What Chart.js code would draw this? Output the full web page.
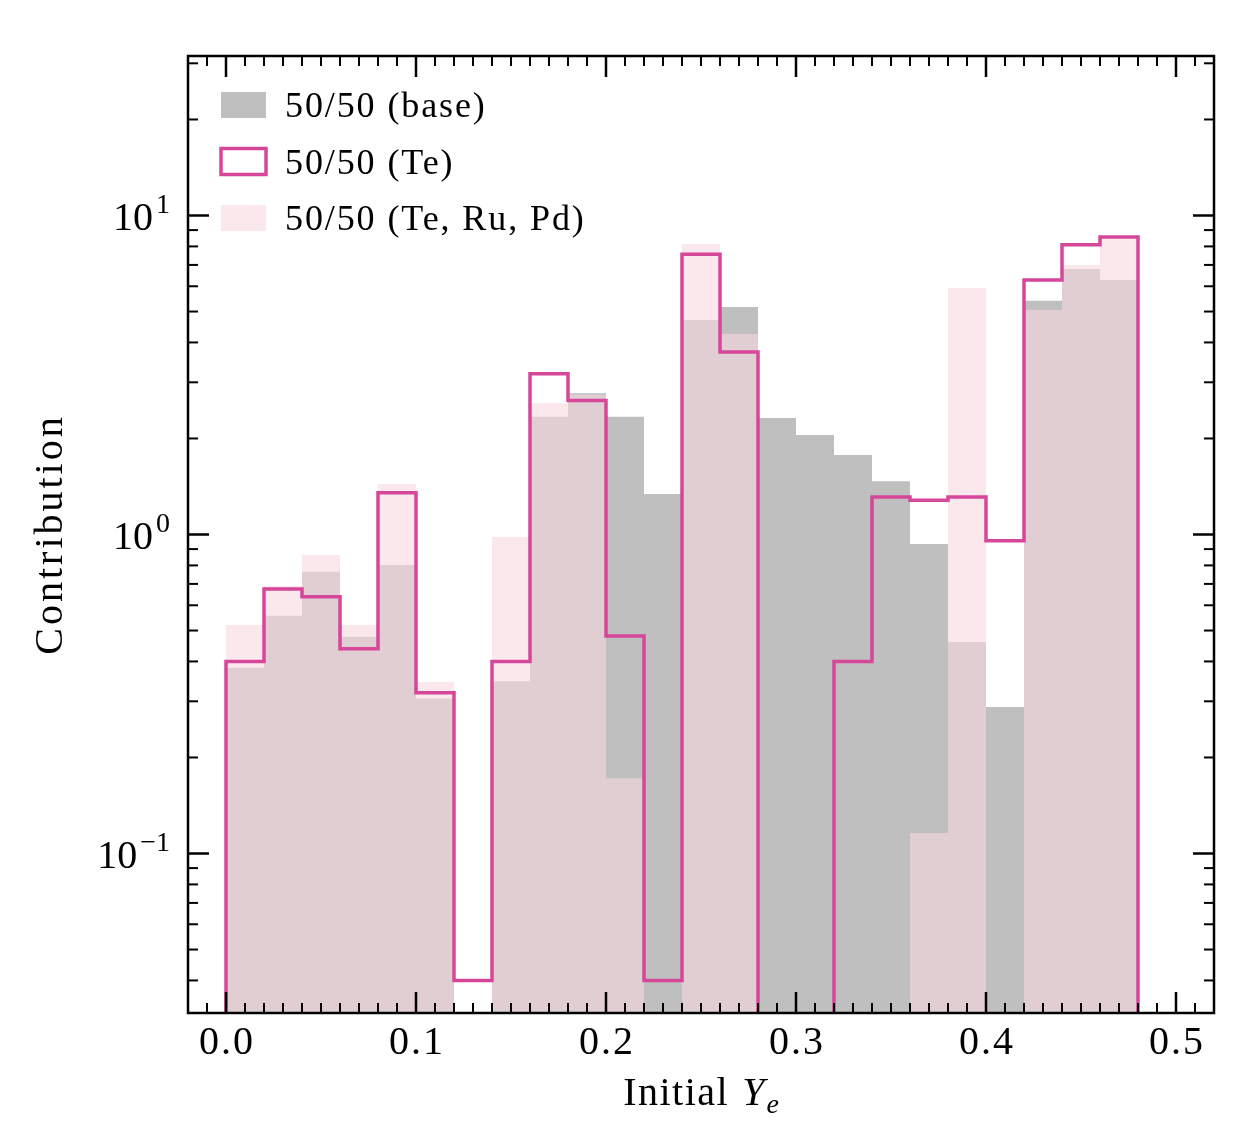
<!DOCTYPE html>
<html>
<head>
<meta charset="utf-8">
<title>Contribution by initial Ye</title>
<script src="https://cdn.jsdelivr.net/npm/chart.js@4.4.1/dist/chart.umd.min.js"></script>
<style>
  html, body { margin: 0; padding: 0; background: #fff; }
  canvas { display: block; }
</style>
</head>
<body>
<canvas id="yeChart" width="1250" height="1125"></canvas>
<script>
// left edges of the initial Ye bins, each 0.02 wide
const binStarts = [0.00, 0.02, 0.04, 0.06, 0.08, 0.10, 0.12, 0.14, 0.16, 0.18, 0.20, 0.22,
                   0.24, 0.26, 0.28, 0.30, 0.32, 0.34, 0.36, 0.38, 0.40, 0.42, 0.44, 0.46];
const BIN_WIDTH = 0.02;

// contributions per bin (0 = empty bin)
const baseValues = [0.382, 0.556, 0.764, 0.478, 0.802, 0.306, 0, 0.347, 2.34, 2.77, 2.34, 1.34,
                    4.70, 5.17, 2.32, 2.05, 1.775, 1.47, 0.934, 0.460, 0.288, 5.40, 6.80, 6.28];
const teValues = [0.400, 0.675, 0.638, 0.438, 1.352, 0.319, 0.040, 0.400, 3.19, 2.63, 0.481, 0.040,
                  7.56, 3.73, 0, 0, 0.400, 1.31, 1.28, 1.31, 0.956, 6.28, 8.10, 8.56];
const teRuPdValues = [0.520, 0.690, 0.862, 0.520, 1.44, 0.345, 0, 0.982, 2.58, 2.74, 0.172, 0,
                      8.14, 4.25, 0, 0, 0, 0, 0.116, 5.93, 0, 5.06, 7.00, 8.44];

const seriesLabels = ['50/50 (base)', '50/50 (Te)', '50/50 (Te, Ru, Pd)'];
const xTickValues = [0, 0.1, 0.2, 0.3, 0.4, 0.5];
const xTickLabels = ['0.0', '0.1', '0.2', '0.3', '0.4', '0.5'];
const yTickExponents = [-1, 0, 1];

const SERIF = '"Liberation Serif", "Times New Roman", serif';
const TE_COLOR = '#d6479a';
const BASE_FILL = 'rgba(128, 128, 128, 0.5)';
const PINK_FILL = 'rgba(248, 216, 223, 0.6)';
const Y_MIN = Math.pow(10, -1.5);
const Y_MAX = Math.pow(10, 1.5);

// histogram outline: each value held across its bin, empty bins fall below the axis
function stepPoints(values) {
    const floor = Y_MIN / 100;
    const last = binStarts.length - 1;
    const pts = [{ x: binStarts[0], y: floor }];
    binStarts.forEach((x0, i) => pts.push({ x: x0, y: values[i] > 0 ? values[i] : floor }));
    pts.push({ x: binStarts[last] + BIN_WIDTH, y: values[last] > 0 ? values[last] : floor });
    pts.push({ x: binStarts[last] + BIN_WIDTH, y: floor });
    return pts;
}

function filledHist(label, values, color, order) {
    return {
        label: label,
        data: stepPoints(values),
        stepped: true,
        borderWidth: 0,
        borderColor: 'rgba(0,0,0,0)',
        backgroundColor: color,
        pointRadius: 0,
        fill: 'start',
        order: order
    };
}

function setFont(ctx, font, spacing) {
    ctx.font = font;
    if ('letterSpacing' in ctx) ctx.letterSpacing = (spacing || 0) + 'px';
}

function tick(ctx, x0, y0, x1, y1, width) {
    ctx.lineWidth = width;
    ctx.beginPath();
    ctx.moveTo(x0, y0);
    ctx.lineTo(x1, y1);
    ctx.stroke();
}

// frame, inward ticks on all four sides, labels and the legend (matplotlib look)
const axesPlugin = {
    id: 'axesPlugin',
    afterDraw(chart) {
        const { ctx, chartArea: a, scales: { x, y } } = chart;
        const MAJOR = 21, MINOR = 10;
        ctx.save();
        ctx.strokeStyle = '#000';
        ctx.fillStyle = '#000';
        ctx.lineCap = 'butt';

        // x ticks: majors every 0.1, minors every 0.01
        for (let i = -1; i <= 51; i++) {
            const v = i / 100;
            if (v < x.min || v > x.max) continue;
            const px = x.getPixelForValue(v);
            const major = i % 10 === 0;
            const len = major ? MAJOR : MINOR;
            tick(ctx, px, a.bottom, px, a.bottom - len, major ? 2.5 : 2);
            tick(ctx, px, a.top, px, a.top + len, major ? 2.5 : 2);
        }
        // y ticks: decades plus 2..9 minors
        for (let k = -2; k <= 1; k++) {
            for (let m = 1; m <= 9; m++) {
                const v = m * Math.pow(10, k);
                if (v < y.min || v > y.max) continue;
                const py = y.getPixelForValue(v);
                const len = m === 1 ? MAJOR : MINOR;
                tick(ctx, a.left, py, a.left + len, py, m === 1 ? 2.5 : 2);
                tick(ctx, a.right, py, a.right - len, py, m === 1 ? 2.5 : 2);
            }
        }
        ctx.lineWidth = 2.5;
        ctx.strokeRect(a.left, a.top, a.right - a.left, a.bottom - a.top);

        // x tick labels
        setFont(ctx, '40px ' + SERIF, 2);
        ctx.textAlign = 'center';
        ctx.textBaseline = 'alphabetic';
        xTickValues.forEach((v, i) => {
            ctx.fillText(xTickLabels[i], x.getPixelForValue(v) + 1, a.bottom + 41);
        });

        // y tick labels 10^e
        ctx.textAlign = 'left';
        yTickExponents.forEach((e) => {
            const py = y.getPixelForValue(Math.pow(10, e));
            const sup = e < 0 ? '\u2212' + (-e) : String(e);
            setFont(ctx, '28px ' + SERIF, 0);
            const wSup = ctx.measureText(sup).width;
            const right = a.left - 18;
            ctx.fillText(sup, right - wSup, py - 3);
            setFont(ctx, '40px ' + SERIF, 0);
            const wBase = ctx.measureText('10').width;
            ctx.fillText('10', right - wSup - 3 - wBase, py + 14);
        });

        // x title: Initial Y_e
        setFont(ctx, '40px ' + SERIF, 1.5);
        const wInit = ctx.measureText('Initial').width;
        setFont(ctx, 'italic 40px ' + SERIF, 0);
        const wY = ctx.measureText('Y').width;
        setFont(ctx, 'italic 28px ' + SERIF, 0);
        const wE = ctx.measureText('e').width;
        const gap = 13;
        let cx = (a.left + a.right) / 2 - (wInit + gap + wY + 2 + wE) / 2;
        const base = a.bottom + 92;
        setFont(ctx, '40px ' + SERIF, 1.5);
        ctx.fillText('Initial', cx, base);
        cx += wInit + gap;
        setFont(ctx, 'italic 40px ' + SERIF, 0);
        ctx.fillText('Y', cx, base);
        cx += wY + 2;
        setFont(ctx, 'italic 28px ' + SERIF, 0);
        ctx.fillText('e', cx, base + 8);

        // y title
        ctx.save();
        ctx.translate(62, (a.top + a.bottom) / 2);
        ctx.rotate(-Math.PI / 2);
        setFont(ctx, '40px ' + SERIF, 3);
        ctx.textAlign = 'center';
        ctx.fillText('Contribution', 0, 0);
        ctx.restore();

        // legend, top left inside the axes
        const rows = [
            { label: seriesLabels[0], fill: BASE_FILL },
            { label: seriesLabels[1], stroke: TE_COLOR },
            { label: seriesLabels[2], fill: PINK_FILL }
        ];
        const boxX = a.left + 33;
        setFont(ctx, '36px ' + SERIF, 1.9);
        ctx.textAlign = 'left';
        rows.forEach((r, i) => {
            const top = a.top + 36 + i * 56.5;
            if (r.fill) {
                ctx.fillStyle = r.fill;
                ctx.fillRect(boxX, top, 45, 26);
            } else {
                ctx.strokeStyle = r.stroke;
                ctx.lineWidth = 3.5;
                ctx.strokeRect(boxX, top, 45, 26);
            }
            ctx.fillStyle = '#000';
            ctx.fillText(r.label, a.left + 97, top + 25);
        });
        ctx.restore();
    }
};

function createChart(canvasId) {
    const ctxt = document.getElementById(canvasId).getContext('2d');
    return new Chart(ctxt, {
        type: 'line',
        data: {
            datasets: [
                {
                    label: seriesLabels[1],
                    data: stepPoints(teValues),
                    stepped: true,
                    borderColor: TE_COLOR,
                    backgroundColor: '#fff',
                    borderWidth: 3.5,
                    borderJoinStyle: 'miter',
                    pointRadius: 0,
                    fill: false,
                    order: 0
                },
                filledHist(seriesLabels[2], teRuPdValues, PINK_FILL, 1),
                filledHist(seriesLabels[0], baseValues, BASE_FILL, 2)
            ]
        },
        options: {
            responsive: false,
            animation: false,
            layout: { padding: { left: 188, right: 36, top: 56, bottom: 112 } },
            scales: {
                x: {
                    type: 'linear',
                    min: -0.02,
                    max: 0.52,
                    display: false,
                    afterBuildTicks: (scale) => { scale.ticks = xTickValues.map((v) => ({ value: v })); }
                },
                y: {
                    type: 'logarithmic',
                    min: Y_MIN,
                    max: Y_MAX,
                    display: false,
                    afterBuildTicks: (scale) => {
                        scale.ticks = yTickExponents.map((e) => ({ value: Math.pow(10, e) }));
                    }
                }
            },
            plugins: {
                legend: { display: false },
                tooltip: { enabled: false }
            }
        },
        plugins: [axesPlugin]
    });
}

document.addEventListener('DOMContentLoaded', () => {
    createChart('yeChart');
});
</script>
</body>
</html>
